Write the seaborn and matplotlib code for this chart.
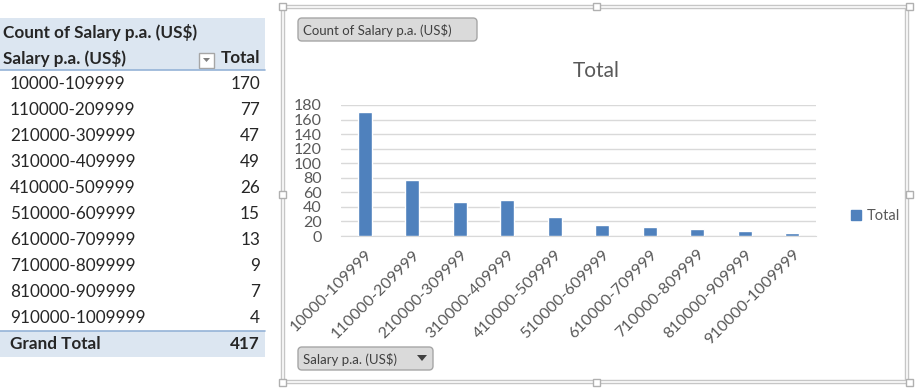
import matplotlib
matplotlib.use("Agg")
import matplotlib.pyplot as plt
import seaborn as sns
import pandas as pd
from matplotlib.patches import Rectangle, FancyBboxPatch, Polygon, Patch

# pivot table data
salary_bands = ["10000-109999", "110000-209999", "210000-309999", "310000-409999",
                "410000-509999", "510000-609999", "610000-709999", "710000-809999",
                "810000-909999", "910000-1009999"]
counts = [170, 77, 47, 49, 26, 15, 13, 9, 7, 4]
grand_total = 417
y_ticks = [0, 20, 40, 60, 80, 100, 120, 140, 160, 180]

df = pd.DataFrame({"Salary p.a. (US$)": salary_bands, "Total": counts})

sns.set_style("white")
plt.rcParams['font.family'] = ['Lato', 'DejaVu Sans']

W, H = 918, 389
fig = plt.figure(figsize=(W / 100, H / 100), dpi=100)

# background axes in pixel coordinates for the table and chart frame
bg = fig.add_axes([0, 0, 1, 1])
bg.set_xlim(0, W)
bg.set_ylim(H, 0)
bg.axis("off")

band = "#dce6f1"
line_blue = "#95b3d7"
fs = 12.3

# --- pivot table ---
bg.add_patch(Rectangle((0, 18), 265, 52, color=band, lw=0))
bg.add_patch(Rectangle((0, 331), 265, 26, color=band, lw=0))
bg.plot([0, 265], [70, 70], color=line_blue, lw=1.2)
bg.plot([0, 265], [331, 331], color=line_blue, lw=1.2)

bg.text(3, 32, "Count of Salary p.a. (US$)", fontsize=fs, fontweight="bold", va="center")
bg.text(3, 58, "Salary p.a. (US$)", fontsize=fs, fontweight="bold", va="center")
bg.text(260, 58, "Total", fontsize=fs, fontweight="bold", va="center", ha="right")
# filter dropdown box
bg.add_patch(Rectangle((199, 53), 15, 15, facecolor="white", edgecolor="#a6a6a6", lw=1))
bg.add_patch(Polygon([(203, 58), (210, 58), (206.5, 62)], color="#7f7f7f", lw=0))

for i, (band_lbl, cnt) in enumerate(zip(salary_bands, counts)):
    y = 84 + 26 * i
    bg.text(10, y, band_lbl, fontsize=fs, va="center")
    bg.text(260, y, str(cnt), fontsize=fs, va="center", ha="right")

bg.text(10, 344, "Grand Total", fontsize=fs, fontweight="bold", va="center")
bg.text(260, 344, str(grand_total), fontsize=fs, fontweight="bold", va="center", ha="right")

# --- chart frame (double line + handles) ---
frame_c = "#c6c6c6"
for off in (0, 3):
    bg.add_patch(Rectangle((281 + off, 5 + off), 627 - 2 * off, 378 - 2 * off,
                           fill=False, edgecolor=frame_c, lw=1))
for hx in (282, 596, 909):
    for hy in (6, 194, 382):
        if hx == 596 and hy == 194:
            continue
        bg.add_patch(Rectangle((hx - 3.5, hy - 3.5), 7, 7, facecolor="white",
                               edgecolor="#b0b0b0", lw=1, zorder=5))

# pivot chart buttons
for (bx, by, bw, txt) in [(298, 18, 179, "Count of Salary p.a. (US$)"),
                          (298, 347, 135, "Salary p.a. (US$)")]:
    bg.add_patch(FancyBboxPatch((bx, by), bw, 23, boxstyle="round,pad=0,rounding_size=4",
                                facecolor="#dadada", edgecolor="#a6a6a6", lw=1))
    bg.text(bx + 5, by + 12, txt, fontsize=9.5, va="center", color="#404040")
bg.add_patch(Polygon([(417, 355), (427, 355), (422, 361)], color="#404040", lw=0))

# --- bar chart ---
ax = fig.add_axes([341 / W, (H - 236) / H, 475 / W, 131 / H])
sns.barplot(data=df, x="Salary p.a. (US$)", y="Total", color="#4f81bd",
            width=0.3, saturation=1, ax=ax, zorder=3)
ax.set_ylim(0, 180)
ax.set_xlim(-0.5, len(salary_bands) - 0.5)
ax.set_yticks(y_ticks)
ax.yaxis.grid(True, color="#d9d9d9", lw=1)
ax.set_axisbelow(True)
for s in ("top", "right", "left"):
    ax.spines[s].set_visible(False)
ax.spines["bottom"].set_color("#d9d9d9")
ax.set_xlabel("")
ax.set_ylabel("")
ax.tick_params(axis="both", length=0, labelcolor="#595959", labelsize=11.5)
ax.tick_params(axis="y", pad=14)
ax.tick_params(axis="x", pad=8)
plt.setp(ax.get_xticklabels(), rotation=45, ha="right", rotation_mode="anchor")
ax.patch.set_alpha(0)

fig.text(596 / W, (H - 71) / H, "Total", fontsize=15, color="#595959", ha="center", va="center")

ax.legend(handles=[Patch(color="#4f81bd", label="Total")], loc="center left",
          bbox_to_anchor=(838 / W, (H - 216) / H), bbox_transform=fig.transFigure,
          frameon=False, fontsize=10.5, handlelength=0.7, handleheight=0.7,
          handletextpad=0.4, labelcolor="#595959")

fig.savefig("out.png", dpi=100)
